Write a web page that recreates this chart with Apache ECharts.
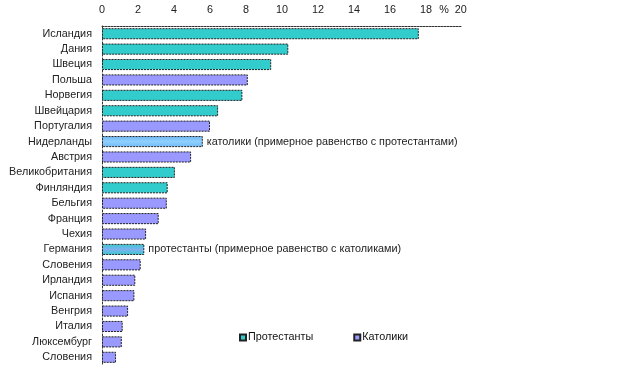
<!DOCTYPE html>
<html><head><meta charset="utf-8">
<script src="https://cdn.jsdelivr.net/npm/echarts@6/dist/echarts.min.js"></script>
<style>html,body{margin:0;padding:0;background:#fff}#c{width:623px;height:381px}</style>
</head><body><div id="c"></div>
<script>
const countries = ['Исландия','Дания','Швеция','Польша','Норвегия','Швейцария','Португалия','Нидерланды','Австрия','Великобритания','Финляндия','Бельгия','Франция','Чехия','Германия','Словения','Ирландия','Испания','Венгрия','Италия','Люксембург','Словения'];
const protestants = [17.6,10.35,9.4,null,7.8,6.45,null,null,null,4.05,3.65,null,null,null,2.35,null,null,null,null,null,null,null];
const catholics = [null,null,null,8.1,null,null,6.0,5.6,4.95,null,null,3.6,3.15,2.45,null,2.15,1.85,1.8,1.45,1.15,1.1,0.78];
const xTicks = [0,2,4,6,8,10,12,14,16,18,20];
const noteCatholic = 'католики (примерное равенство с протестантами)';
const noteProtestant = 'протестанты (примерное равенство с католиками)';
const mixedCatholicIdx = 7, mixedProtestantIdx = 14;

const TEAL = '#33cccc', BLUE = '#9999ff';
const font = '"Liberation Sans", Arial, sans-serif';
const FS = 10.8;
const border = {borderColor:'#222', borderWidth:1, borderType:[2,1]};
function grad(a,b){return {type:'linear',x:0,y:0,x2:0,y2:1,colorStops:[{offset:0,color:a},{offset:0.5,color:b},{offset:1,color:a}]};}
function build(vals, color, mixIdx, mixColor, note){
  return vals.map((v,i)=>{
    if(v==null) return null;
    if(i===mixIdx) return {value:v, itemStyle:Object.assign({color:mixColor},border),
      label:{show:true, position:'right', distance:4, formatter:note, color:'#222', fontSize:FS, fontFamily:font}};
    return v;
  });
}
const chart = echarts.init(document.getElementById('c'), null, {renderer:'canvas'});
chart.setOption({
  animation:false,
  backgroundColor:'#fff',
  grid:{left:102, right:161, top:26, bottom:16},
  xAxis:{type:'value', position:'top', min:0, max:20, interval:2,
    axisLine:{show:true, lineStyle:{color:'#333', type:[2,1], width:1}},
    axisTick:{show:false}, splitLine:{show:false},
    axisLabel:{margin:10, color:'#222', fontSize:FS, fontFamily:font,
      formatter:v=> v===20 ? '{e|%  20}' : String(v),
      rich:{e:{color:'#222', fontSize:FS, fontFamily:font, padding:[0,18,0,0]}}}},
  yAxis:{type:'category', inverse:true, data:countries,
    axisLine:{show:true, lineStyle:{color:'#333', type:[2,2], width:1}},
    axisTick:{show:false},
    axisLabel:{margin:10, color:'#222', fontSize:FS, fontFamily:font}},
  legend:{left:234, top:327, itemWidth:6, itemHeight:6, itemGap:40, icon:'rect',
    textStyle:{color:'#111', fontSize:FS, fontFamily:font, padding:[0,0,0,-3]},
    data:['Протестанты','Католики']},
  series:[
    {name:'Протестанты', type:'bar', barCategoryGap:'28%', barGap:'-100%',
     itemStyle:Object.assign({color:TEAL},border),
     data:build(protestants, TEAL, mixedProtestantIdx, grad('#33cccc','#7fb0f0'), noteProtestant)},
    {name:'Католики', type:'bar', barCategoryGap:'28%', barGap:'-100%',
     itemStyle:Object.assign({color:BLUE},border),
     data:build(catholics, BLUE, mixedCatholicIdx, grad('#6fb8f5','#8fd0ff'), noteCatholic)}
  ]
});
</script></body></html>
